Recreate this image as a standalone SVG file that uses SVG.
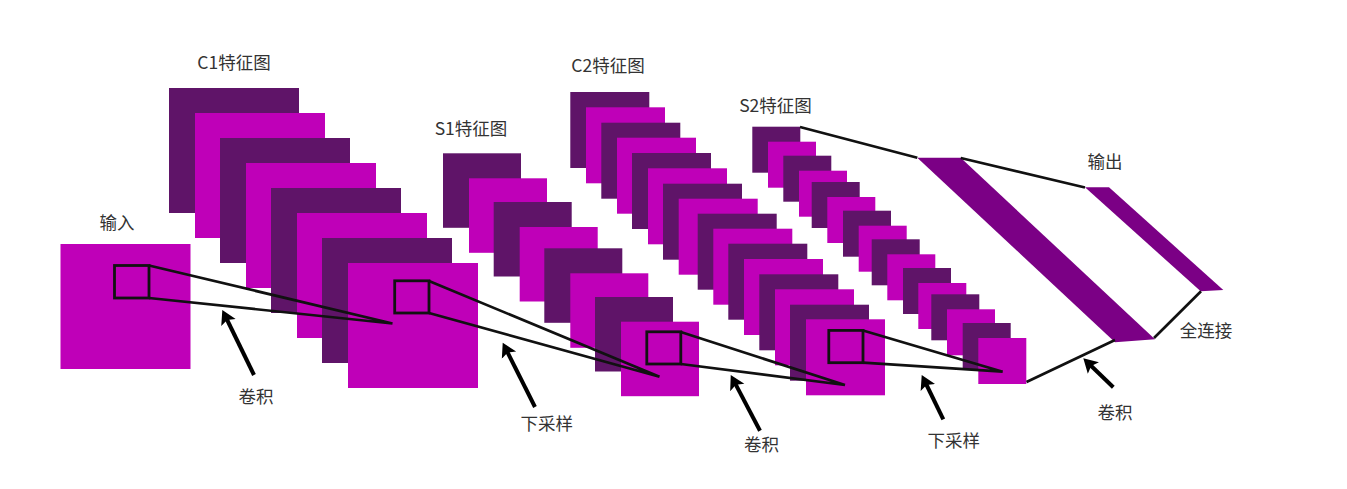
<svg xmlns="http://www.w3.org/2000/svg" width="1347" height="489" viewBox="0 0 1347 489">
<style>
.d{fill:#5f1468}
.m{fill:#bf00b8}
.b{fill:#7b0085}
.w{fill:none;stroke:#111;stroke-width:2.8}
.l{fill:none;stroke:#111;stroke-width:2.7;stroke-linejoin:round}
.a{fill:none;stroke:#000;stroke-width:4;marker-end:url(#h)}
text{font-family:"Noto Sans CJK SC","Liberation Sans",sans-serif;font-size:17.5px;fill:#333;text-anchor:middle}
</style>
<defs>
<marker id="h" markerUnits="userSpaceOnUse" markerWidth="20" markerHeight="20" viewBox="0 -10 20 20" refX="4" refY="0" orient="auto"><path d="M0,-8L14,0L0,8L3,0Z" fill="#000"/></marker>
</defs>
<rect width="1347" height="489" fill="#fff"/>
<g id="input"><rect class="m" x="60.5" y="244" width="130" height="125"/><text x="117" y="229">输入</text></g>
<g id="c1">
<rect class="d" x="169" y="88" width="130" height="125"/>
<rect class="m" x="195" y="113" width="130" height="125"/>
<rect class="d" x="220" y="138" width="130" height="125"/>
<rect class="m" x="246" y="163" width="130" height="125"/>
<rect class="d" x="271" y="188" width="130" height="125"/>
<rect class="m" x="297" y="213" width="130" height="125"/>
<rect class="d" x="322" y="238" width="130" height="125"/>
<rect class="m" x="348" y="263" width="130" height="125"/>
<text x="234" y="69">C1特征图</text>
</g>
<g id="s1">
<rect class="d" x="443" y="153.3" width="78" height="74.5"/>
<rect class="m" x="469" y="178.3" width="78" height="74.5"/>
<rect class="d" x="493.7" y="202" width="78" height="74.5"/>
<rect class="m" x="519.7" y="227" width="78" height="74.5"/>
<rect class="d" x="544.3" y="248.3" width="78" height="74.5"/>
<rect class="m" x="570.3" y="273.3" width="78" height="74.5"/>
<rect class="d" x="595" y="297" width="78" height="74.5"/>
<rect class="m" x="621" y="321.7" width="78" height="74.5"/>
<text x="471" y="135">S1特征图</text>
</g>
<g id="c2">
<rect class="d" x="570.3" y="92" width="79" height="76"/>
<rect class="m" x="586" y="107.3" width="79" height="76"/>
<rect class="d" x="601.3" y="122.7" width="79" height="76"/>
<rect class="m" x="617" y="137.7" width="79" height="76"/>
<rect class="d" x="632" y="153" width="79" height="76"/>
<rect class="m" x="648" y="168.3" width="79" height="76"/>
<rect class="d" x="663" y="183.7" width="79" height="76"/>
<rect class="m" x="678.7" y="198.7" width="79" height="76"/>
<rect class="d" x="697.7" y="213.7" width="79" height="76"/>
<rect class="m" x="713.3" y="228.7" width="79" height="76"/>
<rect class="d" x="728.3" y="243.7" width="79" height="76"/>
<rect class="m" x="744" y="259" width="79" height="76"/>
<rect class="d" x="759.3" y="274.3" width="79" height="76"/>
<rect class="m" x="775" y="289.3" width="79" height="76"/>
<rect class="d" x="790" y="304.7" width="79" height="76"/>
<rect class="m" x="806" y="319.3" width="79" height="76"/>
<text x="608" y="71.5">C2特征图</text>
</g>
<g id="s2">
<rect class="d" x="752.3" y="126.7" width="48" height="46"/>
<rect class="m" x="768" y="141.7" width="48" height="46"/>
<rect class="d" x="783.3" y="155.7" width="48" height="46"/>
<rect class="m" x="799" y="170.7" width="48" height="46"/>
<rect class="d" x="811.7" y="182" width="48" height="46"/>
<rect class="m" x="827.3" y="197" width="48" height="46"/>
<rect class="d" x="843" y="210.7" width="48" height="46"/>
<rect class="m" x="858.7" y="225.7" width="48" height="46"/>
<rect class="d" x="871.7" y="239.3" width="48" height="46"/>
<rect class="m" x="887.3" y="254.3" width="48" height="46"/>
<rect class="d" x="903" y="268" width="48" height="46"/>
<rect class="m" x="918.3" y="283" width="48" height="46"/>
<rect class="d" x="931.3" y="294.3" width="48" height="46"/>
<rect class="m" x="947" y="309.3" width="48" height="46"/>
<rect class="d" x="962.7" y="323" width="48" height="46"/>
<rect class="m" x="978.3" y="338" width="48" height="46"/>
<text x="775.5" y="111.5">S2特征图</text>
</g>
<g id="fc1"><polygon class="b" points="917.3,157.7 960.7,157.7 1155,339.3 1115,342.3"/></g>
<g id="output"><polygon class="b" points="1085,187.3 1109,187.3 1223.3,290 1200.7,291.3"/><text x="1105" y="168">输出</text></g>
<g id="connectors">
<rect class="w" x="114.5" y="265.5" width="34.5" height="32.5"/>
<rect class="w" x="394.7" y="280.8" width="34.3" height="32.2"/>
<rect class="w" x="646.8" y="331.8" width="34" height="32.2"/>
<rect class="w" x="828.8" y="330.4" width="34.2" height="32.3"/>
<path class="l" d="M149,265.5L392.5,323.5M149,298L392.5,323.5"/>
<path class="l" d="M429,281L659.5,376.7M429,313L659.5,376.7"/>
<path class="l" d="M680.8,332L845,385M680.8,364L845,385"/>
<path class="l" d="M863,330.5L1002.7,371.7M863,362.7L1002.7,371.7"/>
<path class="l" d="M800,127L917.3,157.7M960.7,158L1085,187.5M1026.5,382L1115,340M1154,338L1201,291.3"/>
<path class="a" d="M254,375L226.7,319"/>
<path class="a" d="M535,407L507.2,351.6"/>
<path class="a" d="M760,430.7L735.4,383.9"/>
<path class="a" d="M943.3,419.3L926.1,384"/>
<path class="a" d="M1113.3,387.3L1090.5,365.3"/>
</g>
<g id="labels">
<text x="256" y="403">卷积</text>
<text x="546.7" y="429.5">下采样</text>
<text x="761.5" y="450.5">卷积</text>
<text x="953.7" y="447">下采样</text>
<text x="1115" y="418.5">卷积</text>
<text x="1206" y="337">全连接</text>
</g>
</svg>
